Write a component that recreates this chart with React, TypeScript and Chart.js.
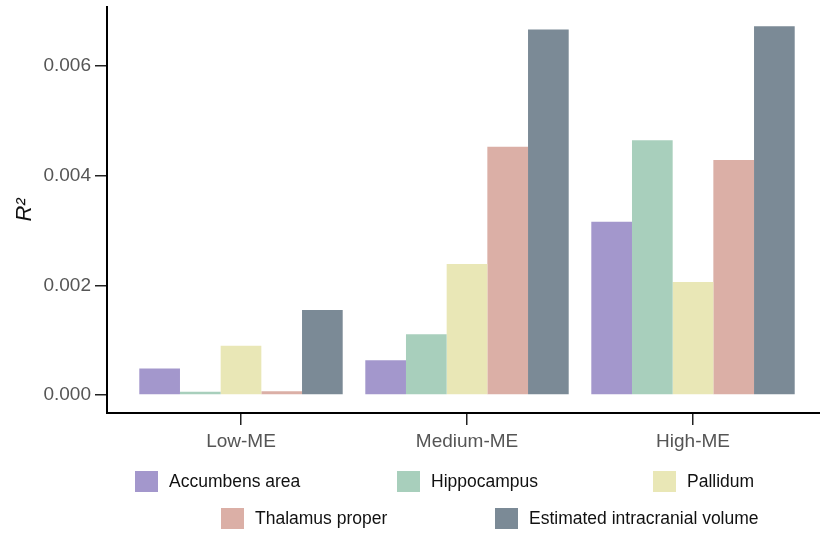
import React, { useEffect, useRef } from "react";
import { Chart, registerables } from "chart.js";

Chart.register(...registerables);

// ---- data ----
const CATEGORIES = ["Low-ME", "Medium-ME", "High-ME"];
const SERIES_NAMES = [
  "Accumbens area",
  "Hippocampus",
  "Pallidum",
  "Thalamus proper",
  "Estimated intracranial volume",
];
const ACCUMBENS = [0.000485, 0.000636, 0.00316];
const HIPPOCAMPUS = [0.00006, 0.00111, 0.00465];
const PALLIDUM = [0.000897, 0.00239, 0.00206];
const THALAMUS = [0.00007, 0.00453, 0.00429];
const EICV = [0.00155, 0.00667, 0.00673];
const Y_TICKS = [0, 0.002, 0.004, 0.006];

// ---- styles ----
const COLORS = ["#A397CC", "#A8CFBC", "#E9E7B6", "#DBAFA6", "#7B8A96"];
const FONT = "'Liberation Sans', Arial, Helvetica, sans-serif";
// legend layout: [left, top] of each item's swatch
const LEGEND_POS = [
  [135, 471],
  [397, 471],
  [653, 471],
  [221, 508],
  [495, 508],
];

const SERIES = [ACCUMBENS, HIPPOCAMPUS, PALLIDUM, THALAMUS, EICV];

export default function App() {
  const ref = useRef<HTMLCanvasElement | null>(null);

  useEffect(() => {
    if (!ref.current) return;
    const chart = new Chart(ref.current, {
      type: "bar",
      data: {
        datasets: SERIES.map((vals, k) => ({
          label: SERIES_NAMES[k],
          data: vals.map((v, i) => ({ x: i, y: v })),
          backgroundColor: COLORS[k],
          borderWidth: 0,
          categoryPercentage: 0.9,
          barPercentage: 1.0,
        })),
      },
      options: {
        animation: false,
        responsive: false,
        devicePixelRatio: 1,
        layout: { padding: { top: 7, right: 0, bottom: 0, left: 0 } },
        plugins: {
          legend: { display: false },
          tooltip: { enabled: false },
        },
        scales: {
          x: {
            type: "linear",
            min: -0.5929,
            max: 2.5619,
            offset: false,
            afterBuildTicks: (s: any) => {
              s.ticks = CATEGORIES.map((_, i) => ({ value: i }));
            },
            afterFit: (s: any) => {
              s.height = 120;
              s.paddingLeft = 0;
              s.paddingRight = 0;
            },
            ticks: {
              callback: (v: any) => CATEGORIES[Math.round(Number(v))] ?? "",
              color: "#555555",
              font: { family: FONT, size: 19 },
              padding: 5,
              autoSkip: false,
              maxRotation: 0,
            },
            grid: {
              offset: false,
              drawOnChartArea: false,
              drawTicks: true,
              tickLength: 12,
              color: "#222222",
              lineWidth: 1.5,
            },
            border: { display: true, color: "#000000", width: 2 },
          },
          y: {
            type: "linear",
            min: -0.000328,
            max: 0.00708,
            afterBuildTicks: (s: any) => {
              s.ticks = Y_TICKS.map((v) => ({ value: v }));
            },
            afterFit: (s: any) => {
              s.width = 107;
              s.paddingTop = 0;
              s.paddingBottom = 0;
            },
            ticks: {
              callback: (v: any) => Number(v).toFixed(3),
              color: "#555555",
              font: { family: FONT, size: 19 },
              padding: 4,
            },
            grid: {
              drawOnChartArea: false,
              drawTicks: true,
              tickLength: 12,
              color: "#222222",
              lineWidth: 1.5,
            },
            border: { display: true, color: "#000000", width: 2 },
            title: {
              display: true,
              text: "R²",
              color: "#111111",
              font: { family: FONT, size: 22, style: "italic" },
              padding: { top: 12, bottom: 0 },
            },
          },
        },
      },
    } as any);
    return () => chart.destroy();
  }, []);

  return (
    <div
      style={{
        position: "fixed",
        left: 0,
        top: 0,
        width: 820,
        height: 533,
        background: "#ffffff",
      }}
    >
      <canvas
        ref={ref}
        width={820}
        height={533}
        style={{ position: "absolute", left: 0, top: 0, width: 820, height: 533 }}
      />
      {SERIES_NAMES.map((name, k) => (
        <div
          key={name}
          style={{
            position: "absolute",
            left: LEGEND_POS[k][0],
            top: LEGEND_POS[k][1],
            height: 21,
            display: "flex",
            alignItems: "center",
            whiteSpace: "nowrap",
            fontFamily: FONT,
            fontSize: 17.5,
            color: "#111111",
          }}
        >
          <span
            style={{
              display: "inline-block",
              width: 23,
              height: 21,
              background: COLORS[k],
              marginRight: 11,
            }}
          />
          <span>{name}</span>
        </div>
      ))}
    </div>
  );
}
